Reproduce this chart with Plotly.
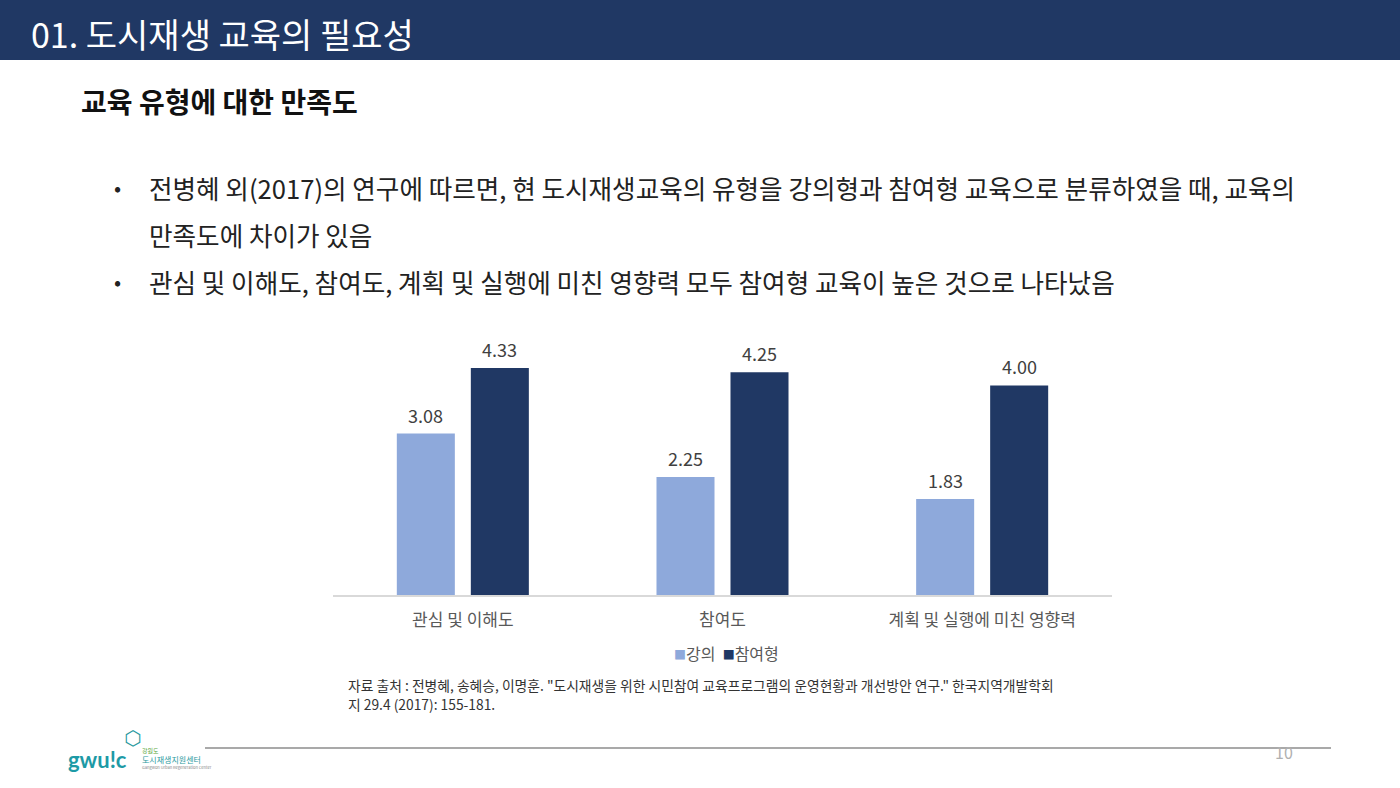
import plotly.graph_objects as go

categories = ["관심 및 이해도", "참여도", "계획 및 실행에 미친 영향력"]
lecture = [3.08, 2.25, 1.83]
participation = [4.33, 4.25, 4.00]
series_names = ["강의", "참여형"]
colors = ["#8EA9DB", "#203864"]

W, H = 1400, 788
FONT = "Noto Sans CJK KR"

def py(y):
    return 1 - y / H

def px(x):
    return x / W

fig = go.Figure()
for vals, name, col in zip([lecture, participation], series_names, colors):
    fig.add_trace(go.Bar(
        x=categories, y=vals, name=name,
        marker=dict(color=col, line=dict(width=0)),
        cliponaxis=False, showlegend=False,
    ))

shapes = [
    dict(type="rect", xref="paper", yref="paper", x0=0, x1=1, y0=py(60), y1=1,
         fillcolor="#203864", line=dict(width=0), layer="below"),
    dict(type="line", xref="paper", yref="paper", x0=px(205), x1=px(1331),
         y0=py(748), y1=py(748), line=dict(color="#8c8c8c", width=1.5)),
]

def ann(text, x, y, size, color, xanchor="left", family=FONT):
    return dict(text=text, x=px(x), y=py(y), xref="paper", yref="paper",
                xanchor=xanchor, yanchor="middle",
                font=dict(size=size, color=color, family=family), showarrow=False)

annotations = [
    ann("01. 도시재생 교육의 필요성", 29, 34, 34, "white"),
    ann("<b>교육 유형에 대한 만족도</b>", 79, 101, 28, "#111111"),
]

bullets = [
    ("•", 187, "전병혜 외(2017)의 연구에 따르면, 현 도시재생교육의 유형을 강의형과 참여형 교육으로 분류하였을 때, 교육의"),
    (None, 234, "만족도에 차이가 있음"),
    ("•", 281, "관심 및 이해도, 참여도, 계획 및 실행에 미친 영향력 모두 참여형 교육이 높은 것으로 나타났음"),
]
for b, y, t in bullets:
    if b:
        annotations.append(ann(b, 112, y, 21, "#222222"))
    annotations.append(ann(t, 147, y, 25.6, "#222222"))

# value labels above bars, positioned through the data axes
for vals, shift in zip([lecture, participation], [-37, 37]):
    for c, v in zip(categories, vals):
        annotations.append(dict(text=f"{v:.2f}", x=c, y=v, xref="x", yref="y",
                                xshift=shift, yshift=19, yanchor="middle", xanchor="center",
                                font=dict(size=18, color="#404040", family=FONT), showarrow=False))

# compact legend
legend_text = (f'<span style="color:{colors[0]};font-size:12px">■</span>{series_names[0]}  '
               f'<span style="color:{colors[1]};font-size:12px">■</span>{series_names[1]}')
annotations.append(ann(legend_text, 726, 653, 16, "#595959", xanchor="center"))

source_lines = [
    "자료 출처 : 전병혜, 송혜승, 이명훈. \"도시재생을 위한 시민참여 교육프로그램의 운영현황과 개선방안 연구.\" 한국지역개발학회",
    "지 29.4 (2017): 155-181.",
]
for i, t in enumerate(source_lines):
    annotations.append(ann(t, 346, 685 + 19 * i, 13.8, "#333333"))

annotations += [
    ann("10", 1284, 752, 16, "#b0b0b0", xanchor="center"),
    ann("<b>gwu!c</b>", 66, 759, 22, "#1d9aa6", family="Lato"),
    ann("강원도", 140, 750, 6, "#5aa83c"),
    ann("도시재생지원센터", 140, 759, 8, "#2b9aa0"),
    ann("Gangwon Urban Regeneration Center", 140, 767, 4, "#888888"),
    ann("⬡", 132, 738, 20, "#2b9aa0", xanchor="center", family="DejaVu Sans"),
]

fig.update_layout(
    width=W, height=H,
    margin=dict(l=0, r=0, t=0, b=0),
    paper_bgcolor="white", plot_bgcolor="white",
    barmode="group", bargap=0.43, bargroupgap=0.216,
    font=dict(family=FONT),
    xaxis=dict(domain=[px(333), px(1112)], showline=True, linecolor="#d9d9d9", linewidth=1.5,
               ticks="", ticklabelstandoff=9,
               tickfont=dict(size=17, color="#595959", family=FONT), showgrid=False),
    yaxis=dict(domain=[py(595), py(333)], range=[0, 5], visible=False, showgrid=False),
    shapes=shapes, annotations=annotations,
    showlegend=False,
)

fig.write_html("out.html")
